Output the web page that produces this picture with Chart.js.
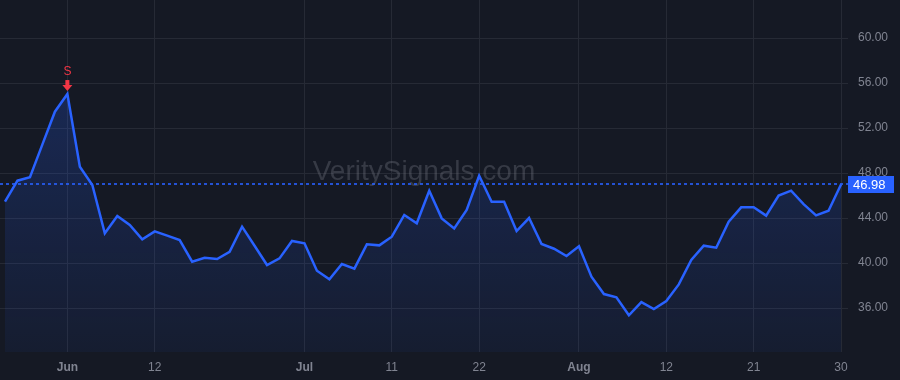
<!DOCTYPE html>
<html>
<head>
<meta charset="utf-8">
<script src="https://cdn.jsdelivr.net/npm/chart.js@4.4.1/dist/chart.umd.min.js"></script>
<style>
  html, body { margin: 0; padding: 0; background: #151924; }
  #wrap { width: 900px; height: 380px; }
</style>
</head>
<body>
<div id="wrap"><canvas id="chart" width="900" height="380"></canvas></div>
<script>
// trading days, 24 May - 30 Aug 2024
const dates = [
  '05-24','05-28','05-29','05-30','05-31',
  '06-03','06-04','06-05','06-06','06-07','06-10','06-11','06-12','06-13','06-14',
  '06-17','06-18','06-20','06-21','06-24','06-25','06-26','06-27','06-28',
  '07-01','07-02','07-03','07-05','07-08','07-09','07-10','07-11','07-12',
  '07-15','07-16','07-17','07-18','07-19','07-22','07-23','07-24','07-25','07-26',
  '07-29','07-30','07-31',
  '08-01','08-02','08-05','08-06','08-07','08-08','08-09','08-12','08-13','08-14',
  '08-15','08-16','08-19','08-20','08-21','08-22','08-23','08-26','08-27','08-28',
  '08-29','08-30'
];
const prices = [
  45.45, 47.32, 47.62, 50.55, 53.45,
  55.02, 48.56, 46.93, 42.64, 44.18, 43.38, 42.10, 42.81, 42.43, 42.04,
  40.12, 40.47, 40.36, 41.00, 43.23, 41.54, 39.82, 40.41, 41.96,
  41.75, 39.32, 38.55, 39.91, 39.50, 41.66, 41.57, 42.34, 44.27,
  43.53, 46.43, 43.97, 43.08, 44.71, 47.76, 45.45, 45.45, 42.84, 44.00,
  41.69, 41.27, 40.62,
  41.48, 38.79, 37.24, 36.95, 35.35, 36.53, 35.91, 36.62, 38.10, 40.27,
  41.54, 41.36, 43.67, 44.95, 44.95, 44.21, 45.99, 46.43, 45.24, 44.24,
  44.65, 46.98
];

const tickDates = ['06-03','06-12','07-01','07-11','07-22','08-01','08-12','08-21','08-30'];
const tickLabels = ['Jun','12','Jul','11','22','Aug','12','21','30'];
const monthLabels = ['Jun','Jul','Aug'];
const yTicks = [36, 40, 44, 48, 52, 56, 60];

const lastPrice = prices[prices.length - 1];
const signalDate = '06-03';
const signalText = 'S';

const tickIdx = tickDates.map(d => dates.indexOf(d));
const signalIdx = dates.indexOf(signalDate);

const BLUE = '#2962ff';
const RED = '#f23645';
const GRID = '#262a35';
const TEXT = '#808491';

const overlay = {
  id: 'overlay',
  beforeDatasetsDraw(chart) {
    const { ctx, chartArea } = chart;
    ctx.save();
    ctx.font = '28px "Liberation Sans", Arial, sans-serif';
    ctx.fillStyle = 'rgba(120,124,136,0.34)';
    ctx.textAlign = 'center';
    ctx.textBaseline = 'middle';
    ctx.fillText('VeritySignals.com', (chartArea.left + chartArea.right) / 2, 172);
    ctx.restore();
  },
  afterDatasetsDraw(chart) {
    const { ctx, chartArea, scales } = chart;
    const y = Math.round(scales.y.getPixelForValue(lastPrice));
    ctx.save();
    // last price line
    ctx.strokeStyle = BLUE;
    ctx.lineWidth = 1.6;
    ctx.setLineDash([3, 3]);
    ctx.beginPath();
    ctx.moveTo(chartArea.left, y);
    ctx.lineTo(chartArea.right, y);
    ctx.stroke();
    ctx.setLineDash([]);
    // price tag
    ctx.fillStyle = BLUE;
    ctx.fillRect(chartArea.right, y - 8, 46, 17);
    ctx.fillStyle = '#ffffff';
    ctx.font = '13px "Liberation Sans", Arial, sans-serif';
    ctx.textAlign = 'left';
    ctx.textBaseline = 'middle';
    ctx.fillText(lastPrice.toFixed(2), chartArea.right + 5, y + 1);
    // sell marker
    const sx = scales.x.getPixelForValue(signalIdx);
    const sy = scales.y.getPixelForValue(prices[signalIdx]);
    ctx.fillStyle = RED;
    ctx.font = '12px "Liberation Sans", Arial, sans-serif';
    ctx.textAlign = 'center';
    ctx.textBaseline = 'middle';
    ctx.fillText(signalText, sx, sy - 22);
    ctx.fillRect(sx - 2, sy - 14, 4, 6);
    ctx.beginPath();
    ctx.moveTo(sx - 5, sy - 9);
    ctx.lineTo(sx + 5, sy - 9);
    ctx.lineTo(sx, sy - 3);
    ctx.closePath();
    ctx.fill();
    ctx.restore();
  }
};

new Chart(document.getElementById('chart').getContext('2d'), {
  type: 'line',
  data: {
    datasets: [{
      data: prices.map((p, i) => ({ x: i, y: p })),
      borderColor: BLUE,
      borderWidth: 2.5,
      pointRadius: 0,
      tension: 0,
      fill: 'start',
      backgroundColor: (c) => {
        const area = c.chart.chartArea;
        if (!area) return 'rgba(41,98,255,0.12)';
        const g = c.chart.ctx.createLinearGradient(0, area.top + 90, 0, area.bottom);
        g.addColorStop(0, 'rgba(41,98,255,0.22)');
        g.addColorStop(1, 'rgba(41,98,255,0.06)');
        return g;
      }
    }]
  },
  options: {
    responsive: false,
    animation: false,
    layout: { padding: 0 },
    plugins: { legend: { display: false }, tooltip: { enabled: false } },
    scales: {
      x: {
        type: 'linear',
        min: -0.4,
        max: dates.length - 1 + 0.56,
        afterBuildTicks: (s) => { s.ticks = tickIdx.map(v => ({ value: v })); },
        afterFit: (s) => { s.height = 28; s.paddingLeft = 0; s.paddingRight = 0; },
        grid: { color: GRID, drawTicks: false },
        border: { display: false },
        ticks: {
          autoSkip: false,
          maxRotation: 0,
          padding: 8,
          color: TEXT,
          font: (c) => ({
            family: '"Liberation Sans", Arial, sans-serif',
            size: 12,
            weight: c.tick && monthLabels.includes(tickLabels[tickIdx.indexOf(c.tick.value)]) ? 'bold' : 'normal'
          }),
          callback: (v) => tickLabels[tickIdx.indexOf(v)]
        }
      },
      y: {
        position: 'right',
        min: 32.09,
        max: 63.38,
        afterBuildTicks: (s) => { s.ticks = yTicks.map(v => ({ value: v })); },
        afterFit: (s) => { s.width = 52; s.paddingTop = 0; s.paddingBottom = 0; },
        grid: { color: GRID, drawTicks: false },
        border: { display: false },
        ticks: {
          padding: 10,
          color: TEXT,
          font: { family: '"Liberation Sans", Arial, sans-serif', size: 12 },
          callback: (v) => v.toFixed(2)
        }
      }
    }
  },
  plugins: [overlay]
});
</script>
</body>
</html>
